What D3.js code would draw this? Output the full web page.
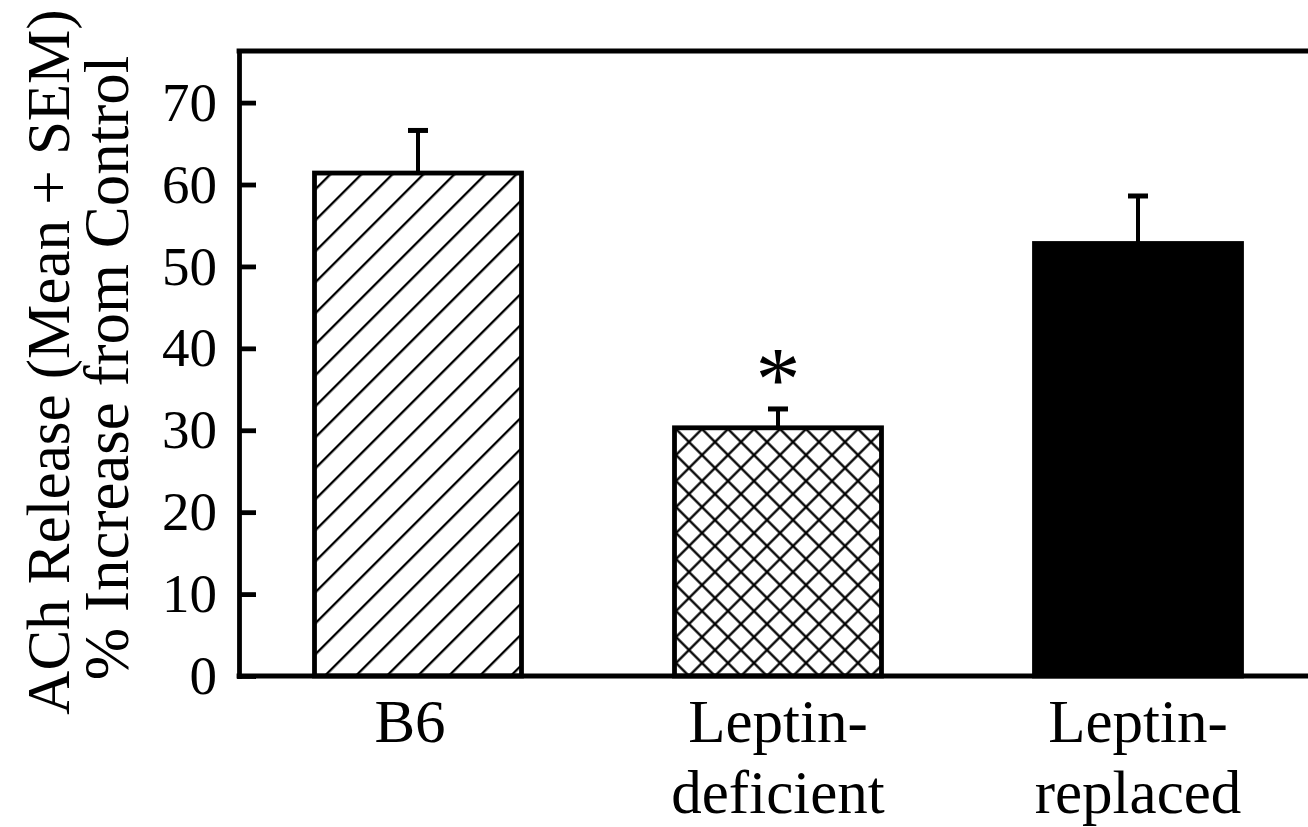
<!DOCTYPE html>
<html>
<head>
<meta charset="utf-8">
<script src="https://cdn.jsdelivr.net/npm/d3@7"></script>
<style>
  html, body { margin: 0; padding: 0; background: #fff; }
  svg { display: block; }
  text { font-family: "Liberation Serif", "Times New Roman", serif; fill: #000; }
</style>
</head>
<body>
<svg id="chart" width="1308" height="827"></svg>
<script>
// ---- data ----
const categories = ["B6", "Leptin-deficient", "Leptin-replaced"];
const categoryLabelLines = [["B6"], ["Leptin-", "deficient"], ["Leptin-", "replaced"]];
const means = [61.4, 30.3, 52.8];
const sems = [5.2, 2.3, 5.8];
const fills = ["hatch", "crosshatch", "solid"];
const significance = ["", "*", ""];
const yTicks = [0, 10, 20, 30, 40, 50, 60, 70];
const yTitleLines = ["ACh Release (Mean + SEM)", "% Increase from Control"];

// ---- layout ----
const W = 1308, H = 827;
const plotLeft = 239, plotRight = 1308, plotTop = 51, plotBottom = 676;

const svg = d3.select("#chart");

const x = d3.scaleBand()
  .domain(categories)
  .range([238, 1318])
  .paddingInner(0.425)
  .paddingOuter(0.2125);

const y = d3.scaleLinear()
  .domain([0, 76.3])
  .range([plotBottom, plotTop]);

// ---- patterns ----
const defs = svg.append("defs");
const hs = 31 / Math.SQRT2;
const hatch = defs.append("pattern")
  .attr("id", "hatch")
  .attr("patternUnits", "userSpaceOnUse")
  .attr("width", hs).attr("height", hs)
  .attr("patternTransform", "rotate(-45)");
hatch.append("rect").attr("width", hs).attr("height", hs).attr("fill", "#fff");
hatch.append("line")
  .attr("x1", -1).attr("x2", hs + 1)
  .attr("y1", 6.15).attr("y2", 6.15)
  .attr("stroke", "#000").attr("stroke-width", 2.3);

const cs = 26 / Math.SQRT2;
const cross = defs.append("pattern")
  .attr("id", "crosshatch")
  .attr("patternUnits", "userSpaceOnUse")
  .attr("width", cs).attr("height", cs)
  .attr("patternTransform", "rotate(45)");
cross.append("rect").attr("width", cs).attr("height", cs).attr("fill", "#fff");
cross.append("line")
  .attr("x1", -1).attr("x2", cs + 1)
  .attr("y1", cs / 2).attr("y2", cs / 2)
  .attr("stroke", "#000").attr("stroke-width", 2.3);
cross.append("line")
  .attr("y1", -1).attr("y2", cs + 1)
  .attr("x1", cs / 2).attr("x2", cs / 2)
  .attr("stroke", "#000").attr("stroke-width", 2.3);

const fillFor = f => f === "solid" ? "#000" : `url(#${f})`;

// ---- bars ----
const data = categories.map((c, i) => ({
  cat: c, mean: means[i], sem: sems[i], fill: fills[i], sig: significance[i], lines: categoryLabelLines[i]
}));

const g = svg.append("g");

// error bars
const eb = g.selectAll(".err").data(data).enter().append("g").attr("class", "err");
eb.append("line")
  .attr("x1", d => x(d.cat) + x.bandwidth() / 2)
  .attr("x2", d => x(d.cat) + x.bandwidth() / 2)
  .attr("y1", d => y(d.mean))
  .attr("y2", d => y(d.mean + d.sem))
  .attr("stroke", "#000").attr("stroke-width", 4);
eb.append("line")
  .attr("x1", d => x(d.cat) + x.bandwidth() / 2 - 10)
  .attr("x2", d => x(d.cat) + x.bandwidth() / 2 + 10)
  .attr("y1", d => y(d.mean + d.sem))
  .attr("y2", d => y(d.mean + d.sem))
  .attr("stroke", "#000").attr("stroke-width", 5);

g.selectAll(".bar").data(data).enter().append("rect")
  .attr("class", "bar")
  .attr("x", d => x(d.cat))
  .attr("y", d => y(d.mean))
  .attr("width", x.bandwidth())
  .attr("height", d => y(0) - y(d.mean))
  .attr("fill", d => fillFor(d.fill))
  .attr("stroke", "#000")
  .attr("stroke-width", 4.8);

// significance markers
g.selectAll(".sig").data(data.filter(d => d.sig)).enter().append("text")
  .attr("class", "sig")
  .attr("x", d => x(d.cat) + x.bandwidth() / 2)
  .attr("y", d => y(d.mean + d.sem) + 1)
  .attr("text-anchor", "middle")
  .style("font-size", "90px")
  .text(d => d.sig);

// ---- frame ----
svg.append("line")
  .attr("x1", plotLeft).attr("x2", plotRight)
  .attr("y1", plotTop).attr("y2", plotTop)
  .attr("stroke", "#000").attr("stroke-width", 4.8).attr("stroke-linecap", "square");
svg.append("line")
  .attr("x1", plotLeft).attr("x2", plotRight)
  .attr("y1", plotBottom).attr("y2", plotBottom)
  .attr("stroke", "#000").attr("stroke-width", 4.8).attr("stroke-linecap", "square");

// ---- y axis ----
const yAxis = d3.axisLeft(y)
  .tickValues(yTicks)
  .tickFormat(d3.format("d"))
  .tickSizeInner(-17)
  .tickSizeOuter(0)
  .tickPadding(22);

const ya = svg.append("g")
  .attr("transform", `translate(${plotLeft},0)`)
  .call(yAxis);
ya.select(".domain").attr("stroke-width", 4.8).attr("stroke-linecap", "square");
ya.selectAll(".tick line").attr("stroke-width", 4.8);
ya.selectAll(".tick text")
  .style("font-family", "'Liberation Serif', 'Times New Roman', serif")
  .style("font-size", "55px");
ya.attr("font-size", null).attr("font-family", null);

// ---- x labels ----
const xl = svg.append("g");
data.forEach(d => {
  d.lines.forEach((ln, j) => {
    xl.append("text")
      .attr("x", x(d.cat) + x.bandwidth() / 2 - (d.lines.length === 1 ? 8 : 0))
      .attr("y", 741.5 + j * 71.5)
      .attr("text-anchor", "middle")
      .style("font-size", "61px")
      .text(ln);
  });
});

// ---- y title ----
const titlePos = [[69, 362], [128, 368]];
const titleSizes = [61, 63];
yTitleLines.forEach((t, i) => {
  svg.append("text")
    .attr("transform", `translate(${titlePos[i][0]},${titlePos[i][1]}) rotate(-90)`)
    .attr("text-anchor", "middle")
    .style("font-size", titleSizes[i] + "px")
    .text(t);
});
</script>
</body>
</html>
